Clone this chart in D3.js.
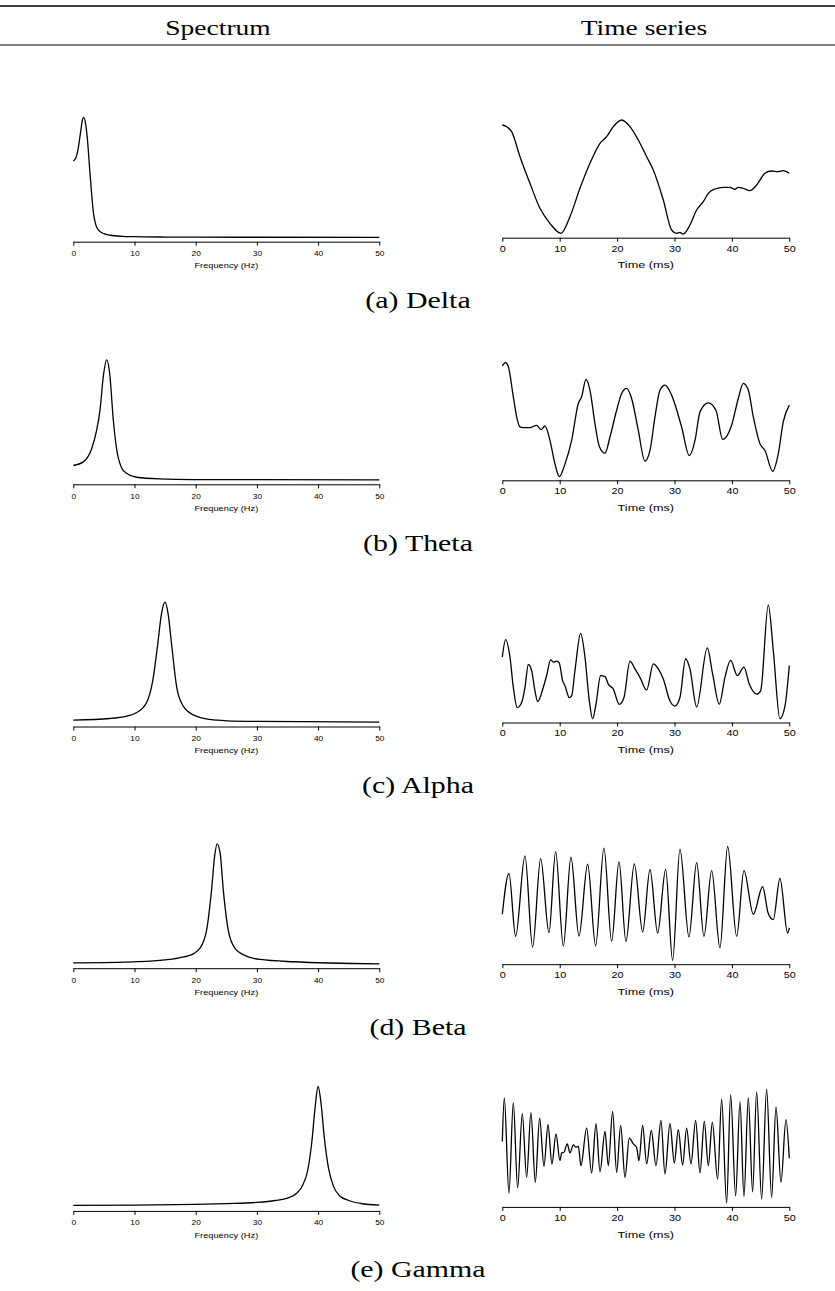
<!DOCTYPE html>
<html>
<head>
<meta charset="utf-8">
<script src="https://d3js.org/d3.v7.min.js"></script>
<style>
  body { margin: 0; background: #fff; }
  .serif { font-family: "Liberation Serif", "Times New Roman", serif; fill: #000; }
  .sans { font-family: "Liberation Sans", Arial, sans-serif; fill: #000; }
</style>
</head>
<body>
<script>
// ---- data ----
const headers = ["Spectrum", "Time series"];
const captions = ["(a) Delta", "(b) Theta", "(c) Alpha", "(d) Beta", "(e) Gamma"];
const freqTicks = [0, 10, 20, 30, 40, 50];
const timeTicks = [0, 10, 20, 30, 40, 50];

// spectra: frequency (Hz) and relative power
const deltaFreq = [0, 0.4, 0.8, 1.2, 1.5, 1.7, 2.0, 2.3, 2.7, 3.0, 3.3, 3.7, 4.2, 5, 6, 8, 10, 15, 20, 30, 50];
const deltaPow  = [0.636, 0.66, 0.74, 0.88, 0.98, 1.0, 0.95, 0.82, 0.55, 0.36, 0.2, 0.1, 0.055, 0.03, 0.017, 0.008, 0.005, 0.002, 0.001, 0.0005, 0];
const thetaFreq = [0, 1.63, 3.0, 3.8, 4.36, 4.9, 5.45, 6.0, 6.5, 7.1, 7.9, 8.7, 10.3, 14.1, 19.6, 50];
const thetaPow  = [0.12, 0.15, 0.26, 0.41, 0.58, 0.86, 1.0, 0.86, 0.52, 0.25, 0.10, 0.055, 0.022, 0.008, 0.003, 0];
const alphaFreq = [0, 6.0, 8.7, 10.3, 11.9, 13.0, 13.8, 14.4, 15.0, 15.5, 16.1, 16.9, 18.0, 19.6, 22.3, 25.1, 30.5, 50];
const alphaPow  = [0.017, 0.03, 0.05, 0.078, 0.155, 0.35, 0.65, 0.9, 1.0, 0.9, 0.63, 0.29, 0.13, 0.06, 0.022, 0.011, 0.006, 0];
const betaFreq  = [0, 8.7, 14.1, 17.3, 19.6, 20.7, 21.8, 22.6, 23.1, 23.5, 24.0, 24.5, 25.3, 26.4, 28.3, 30.5, 35.9, 50];
const betaPow   = [0.008, 0.014, 0.028, 0.05, 0.083, 0.13, 0.285, 0.62, 0.9, 1.0, 0.92, 0.62, 0.285, 0.13, 0.064, 0.036, 0.017, 0];
const gammaFreq = [0, 10, 20, 25, 30, 33, 35, 36.5, 37.5, 38.3, 39.0, 39.5, 40.0, 40.5, 41.0, 41.7, 42.5, 43.5, 45, 47, 50];
const gammaPow  = [0.01, 0.012, 0.018, 0.024, 0.034, 0.05, 0.07, 0.11, 0.18, 0.3, 0.55, 0.82, 1.0, 0.85, 0.58, 0.32, 0.17, 0.09, 0.05, 0.025, 0.012];

// time series: time (ms) and amplitude
const deltaTime = [0, 0.75, 1.63, 3.08, 4.82, 6.56, 8.30, 10.22, 11.79, 13.53, 15.27, 17.02, 18.18, 19.34, 20.79, 22.24, 23.69, 25.15, 26.31, 28.05, 29.50, 30.37, 30.95, 31.53, 32.69, 33.86, 35.02, 35.89, 37.05, 38.50, 39.66, 40.53, 41.11, 41.99, 43.15, 44.31, 45.76, 46.92, 48.08, 48.95, 50];
const deltaAmp  = [1.56, 1.51, 1.36, 0.61, -0.19, -0.94, -1.39, -1.69, -1.19, -0.34, 0.41, 1.01, 1.21, 1.51, 1.71, 1.51, 1.11, 0.61, 0.21, -0.69, -1.59, -1.69, -1.66, -1.71, -1.44, -0.99, -0.74, -0.49, -0.36, -0.31, -0.31, -0.37, -0.31, -0.34, -0.41, -0.24, 0.11, 0.18, 0.16, 0.19, 0.11];
const thetaTime = [0, 0.58, 1.05, 1.92, 2.50, 3.08, 3.66, 4.82, 5.98, 6.74, 7.43, 8.30, 9.18, 9.93, 10.92, 12.08, 13.24, 13.82, 14.58, 15.27, 16.14, 16.90, 17.89, 18.76, 19.92, 20.79, 21.66, 22.53, 23.69, 24.85, 25.73, 26.60, 27.47, 28.34, 29.50, 31.24, 32.58, 33.57, 34.44, 35.89, 37.22, 38.39, 39.20, 39.95, 41.11, 41.99, 42.86, 43.73, 44.89, 45.76, 47.10, 48.08, 48.95, 50];
const thetaAmp  = [1.60, 1.70, 1.58, 0.68, 0.08, -0.22, -0.24, -0.24, -0.17, -0.30, -0.19, -0.62, -1.32, -1.70, -1.32, -0.62, 0.48, 0.68, 1.20, 0.88, -0.12, -0.80, -1.00, -0.52, 0.28, 0.78, 0.93, 0.63, -0.32, -1.24, -0.92, 0.08, 0.88, 1.03, 0.73, -0.22, -1.07, -0.62, 0.23, 0.50, 0.28, -0.59, -0.47, -0.17, 0.63, 1.08, 0.88, 0.08, -0.72, -0.92, -1.54, -1.02, -0.07, 0.43, 0.55];
const alphaTime = [0, 0.58, 1.34, 1.92, 2.61, 3.37, 3.95, 4.53, 5.11, 5.69, 6.16, 7.14, 7.72, 8.42, 8.89, 9.47, 9.93, 10.51, 10.92, 11.67, 12.08, 12.66, 13.65, 14.40, 15.16, 15.74, 16.32, 17.13, 17.89, 18.47, 19.34, 20.38, 21.20, 22.24, 23.11, 23.98, 25.15, 26.31, 27.18, 28.05, 29.21, 30.08, 30.95, 31.94, 32.69, 33.86, 35.71, 36.64, 37.80, 38.79, 39.78, 40.94, 42.10, 43.03, 44.31, 45.01, 46.34, 47.21, 48.37, 49.25, 50];
const alphaAmp  = [0.14, 0.66, 0.14, -0.76, -1.36, -1.21, -0.76, -0.08, -0.26, -0.86, -1.18, -0.76, -0.41, 0.06, -0.01, 0.02, -0.04, -0.56, -0.71, -1.06, -1.01, -0.26, 0.84, 0.14, -1.16, -1.69, -1.26, -0.41, -0.44, -0.66, -0.81, -1.26, -1.06, 0.02, -0.21, -0.46, -0.84, -0.06, -0.21, -0.51, -1.16, -1.31, -1.06, 0.09, -0.21, -1.34, 0.41, -0.36, -1.26, -0.46, 0.04, -0.41, -0.16, -0.66, -0.96, -0.86, 1.69, 0.34, -1.69, -1.31, -0.11];
const betaTime  = [0, 1.16, 2.32, 3.95, 5.28, 6.68, 8.13, 9.29, 10.63, 11.96, 13.36, 14.87, 16.26, 17.71, 19.05, 20.33, 21.54, 23.00, 24.45, 25.73, 27.06, 28.46, 29.67, 30.95, 32.52, 33.86, 35.13, 36.47, 37.92, 39.26, 40.83, 42.10, 43.73, 45.35, 46.34, 47.21, 48.37, 49.71, 50];
const betaAmp   = [-0.32, 0.90, -0.98, 1.42, -1.30, 1.34, -0.87, 1.55, -1.27, 1.38, -0.97, 1.17, -1.26, 1.65, -1.13, 1.25, -1.13, 1.18, -0.85, 1.02, -0.88, 1.02, -1.70, 1.62, -1.00, 1.22, -0.98, 0.98, -1.32, 1.70, -0.98, 0.98, -0.32, 0.50, -0.30, -0.48, 0.75, -0.88, -0.73];
const gammaTime = [0, 0.35, 1.16, 1.92, 2.67, 3.48, 4.24, 4.99, 5.75, 6.50, 7.26, 7.96, 8.65, 9.35, 10.05, 10.34, 10.74, 11.32, 11.79, 12.37, 12.83, 13.24, 13.70, 14.69, 15.56, 16.32, 17.02, 17.89, 18.47, 19.22, 19.92, 20.62, 21.37, 22.13, 22.82, 23.40, 23.81, 24.45, 25.15, 25.96, 26.77, 27.64, 28.34, 29.21, 29.97, 30.66, 31.42, 32.11, 32.87, 33.68, 34.44, 35.19, 35.89, 36.59, 37.51, 38.21, 39.08, 39.78, 40.65, 41.41, 42.10, 42.86, 43.61, 44.31, 45.18, 46.05, 46.92, 47.68, 48.55, 49.42, 50];
const gammaAmp  = [0.14, 1.44, -1.40, 1.30, -1.24, 0.97, -0.93, 1.00, -1.08, 0.84, -0.60, 0.64, -0.53, 0.37, -0.43, -0.20, -0.18, 0.07, -0.20, 0.04, -0.03, 0.00, -0.58, 0.54, -0.80, 0.67, -0.76, 0.44, -0.58, 1.04, -0.78, 0.62, -0.93, 0.24, 0.07, -0.03, -0.43, 0.62, -0.53, 0.47, -0.58, 0.77, -0.83, 0.67, -0.50, 0.49, -0.56, 0.54, -0.53, 0.77, -0.80, 0.74, -0.58, 0.72, -0.98, 1.40, -1.70, 1.54, -1.48, 1.32, -1.50, 1.44, -1.36, 1.62, -1.58, 1.70, -1.53, 1.17, -1.08, 0.79, -0.36];

const spectra = [[deltaFreq, deltaPow], [thetaFreq, thetaPow], [alphaFreq, alphaPow], [betaFreq, betaPow], [gammaFreq, gammaPow]];
const series  = [[deltaTime, deltaAmp], [thetaTime, thetaAmp], [alphaTime, alphaAmp], [betaTime, betaAmp], [gammaTime, gammaAmp]];

// ---- layout ----
const W = 835, H = 1291;
const rowOffset = [0, 242.6, 484.8, 726.5, 969.2];

const svg = d3.select("body").append("svg")
    .attr("width", W)
    .attr("height", H);

// table rules and header
svg.append("line").attr("x1", 0).attr("x2", W).attr("y1", 6).attr("y2", 6)
    .attr("stroke", "#000").attr("stroke-width", 1.4);
svg.append("line").attr("x1", 0).attr("x2", W).attr("y1", 45).attr("y2", 45)
    .attr("stroke", "#000").attr("stroke-width", 1);

[218, 644].forEach((cx, i) => {
    svg.append("text").attr("class", "serif")
        .attr("transform", `translate(${cx},35) scale(1.25,1)`)
        .attr("text-anchor", "middle")
        .style("font-size", "22px")
        .text(headers[i]);
});

const specX = d3.scaleLinear().domain([0, 50]).range([73.3, 379.3]);
const timeX = d3.scaleLinear().domain([0, 50]).range([502.3, 789.3]);

function panel(x, y, xs, ys, ticks, axisY, o) {
    const g = svg.append("g");
    const pts = xs.map((v, i) => [v, ys[i]]);
    const line = d3.line()
        .x(d => x(d[0]))
        .y(d => y(d[1]))
        .curve(d3.curveMonotoneX);
    g.append("path")
        .datum(pts)
        .attr("d", line)
        .attr("fill", "none")
        .attr("stroke", "#000")
        .attr("stroke-width", 1.3)
        .attr("stroke-linejoin", "round");

    const ax = g.append("g")
        .attr("transform", `translate(0,${axisY})`)
        .call(d3.axisBottom(x).tickValues(ticks).tickSize(4).tickSizeOuter(0).tickPadding(o.pad));
    ax.select(".domain").attr("stroke", "#000");
    ax.selectAll(".tick line").attr("stroke", "#000");
    ax.selectAll(".tick text")
        .attr("class", "sans")
        .style("font-family", "'Liberation Sans', Arial, sans-serif")
        .style("font-size", o.fs + "px")
        .attr("fill", "#000")
        .attr("transform", `scale(${o.sx},1)`);

    const cx = (x.range()[0] + x.range()[1]) / 2;
    g.append("text").attr("class", "sans")
        .attr("transform", `translate(${cx},${axisY + o.titleDy}) scale(${o.tsx},1)`)
        .attr("text-anchor", "middle")
        .style("font-size", o.fs + "px")
        .text(o.title);
}

spectra.forEach((s, i) => {
    const dy = rowOffset[i];
    const y = d3.scaleLinear().domain([0, 1]).range([237.3 + dy, 117.3 + dy]);
    panel(specX, y, s[0], s[1], freqTicks, 241.7 + dy,
        { pad: 5, fs: 7.6, sx: 1.1, tsx: 1.22, titleDy: 26.6, title: "Frequency (Hz)" });
});

series.forEach((s, i) => {
    const dy = rowOffset[i];
    const y = d3.scaleLinear().domain(d3.extent(s[1])).range([234 + dy, 120 + dy]);
    panel(timeX, y, s[0], s[1], timeTicks, 237.7 + dy,
        { pad: 3.3, fs: 9.3, sx: 1.16, tsx: 1.36, titleDy: 30.6, title: "Time (ms)" });
});

captions.forEach((c, i) => {
    svg.append("text").attr("class", "serif")
        .attr("transform", `translate(418,${308 + rowOffset[i]}) scale(1.3,1)`)
        .attr("text-anchor", "middle")
        .style("font-size", "23px")
        .text(c);
});
</script>
</body>
</html>
